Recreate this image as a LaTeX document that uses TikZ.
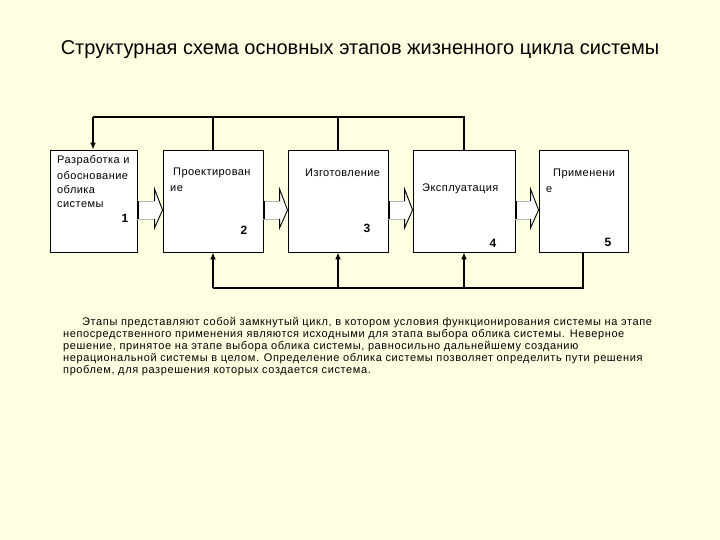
\documentclass[tikz,border=0pt]{standalone}
\usepackage{fontspec}
\setmainfont{Liberation Sans}
\newfontfamily\boxfont[LetterSpace=4]{Liberation Sans}
\newfontfamily\parfont[LetterSpace=5.5]{Liberation Sans}
\usetikzlibrary{arrows.meta,calc}
\definecolor{bgyellow}{RGB}{255,255,225}
\tikzset{
  stage/.style={draw=black, line width=0.9pt, fill=white, minimum width=#1, minimum height=102pt, inner sep=0pt},
  boxtxt/.style={anchor=west, inner sep=0pt, font=\boxfont\fontsize{11}{13}\selectfont},
  numtxt/.style={inner sep=0pt, font=\fontsize{12}{14}\selectfont\bfseries},
  partxt/.style={anchor=west, inner sep=0pt, font=\parfont\fontsize{11}{12}\selectfont},
  loopline/.style={line width=1.8pt},
  tapline/.style={line width=1.4pt},
  tip/.style={-{Latex[length=7pt,width=6pt]}}
}
\newcommand\blockarrow[2]{%
  \fill[white] ($(#1.east)+(0,0)$) -- ($(#2.west)+(-8,0)$) -- ($(#2.west)+(-8,-12)$) -- ($(#2.west)+(0,9)$) -- ($(#2.west)+(-8,27)$) -- ($(#2.west)+(-8,18)$) -- ($(#1.east)+(0,18)$) -- cycle;
  \draw[gray!55, line width=0.6pt] ($(#1.east)+(0,0)$) -- ($(#2.west)+(-8,0)$) ($(#2.west)+(-8,18)$) -- ($(#1.east)+(0,18)$);
  \draw[black, line width=0.9pt] ($(#2.west)+(-8,0)$) -- ($(#2.west)+(-8,-12)$) -- ($(#2.west)+(0,9)$) -- ($(#2.west)+(-8,27)$) -- ($(#2.west)+(-8,18)$);
  \draw[black, line width=2pt] ($(#1.east)+(1,0)$) -- ($(#1.east)+(1,18)$);
}
\begin{document}
\begin{tikzpicture}[x=1pt,y=-1pt]
\fill[bgyellow] (0,0) rectangle (720,540);
\useasboundingbox (0,0) rectangle (720,540);

\node[inner sep=0pt, font=\fontsize{20}{23}\selectfont] (title) at (360,50) {Структурная схема основных этапов жизненного цикла системы};

% stage boxes
\node[stage=87pt]  (b1) at (93.5,201) {};
\node[stage=100pt] (b2) at (213,201) {};
\node[stage=100pt] (b3) at (338,201) {};
\node[stage=102pt] (b4) at (464,201) {};
\node[stage=89pt]  (b5) at (583.5,201) {};

% texts in boxes
\node[boxtxt] (t1a) at (57,161) {Разработка и};
\node[boxtxt] (t1b) at (57,176) {обоснование};
\node[boxtxt] (t1c) at (57,190) {облика};
\node[boxtxt] (t1d) at (57,205) {системы};
\node[numtxt] (n1) at (125,218) {1};

\node[boxtxt] (t2a) at (173,173) {Проектирован};
\node[boxtxt] (t2b) at (170,189) {ие};
\node[numtxt] (n2) at (244,230) {2};

\node[boxtxt] (t3a) at (305,173) {Изготовление};
\node[numtxt] (n3) at (367,228) {3};

\node[boxtxt] (t4a) at (422,189) {Эксплуатация};
\node[numtxt] (n4) at (493,243) {4};

\node[boxtxt] (t5a) at (553,174) {Применени};
\node[boxtxt] (t5b) at (546,190) {е};
\node[numtxt] (n5) at (608,242) {5};

% block arrows
\blockarrow{b1}{b2}
\blockarrow{b2}{b3}
\blockarrow{b3}{b4}
\blockarrow{b4}{b5}

% feedback loop
\coordinate (k1) at (93,117);
\coordinate (k2) at (213,117);
\coordinate (k3) at (338,117);
\coordinate (k4) at (464,117);
\coordinate (u2) at (213,288);
\coordinate (u3) at (338,288);
\coordinate (u4) at (464,288);
\coordinate (u5) at (583,288);

\draw[loopline] (b4.north -| k4) -- (k4) -- (k1);
\draw[tapline, tip] (k1) -- (b1.north -| k1);
\draw[tapline] (b2.north -| k2) -- (k2);
\draw[tapline] (b3.north -| k3) -- (k3);

\draw[loopline] (b5.south -| u5) -- (u5) -- (u2);
\draw[tapline, tip] (u2) -- (b2.south -| u2);
\draw[tapline, tip] (u3) -- (b3.south -| u3);
\draw[loopline, tip] (u4) -- (b4.south -| u4);

% paragraph
\node[partxt] (p1) at (82,323) {Этапы представляют собой замкнутый цикл, в котором условия функционирования системы на этапе};
\node[partxt] (p2) at (63,335) {непосредственного применения являются исходными для этапа выбора облика системы. Неверное};
\node[partxt] (p3) at (63,347) {решение, принятое на этапе выбора облика системы, равносильно дальнейшему созданию};
\node[partxt] (p4) at (63,359) {нерациональной системы в целом. Определение облика системы позволяет определить пути решения};
\node[partxt] (p5) at (63,371) {проблем, для разрешения которых создается система.};
\end{tikzpicture}
\end{document}
